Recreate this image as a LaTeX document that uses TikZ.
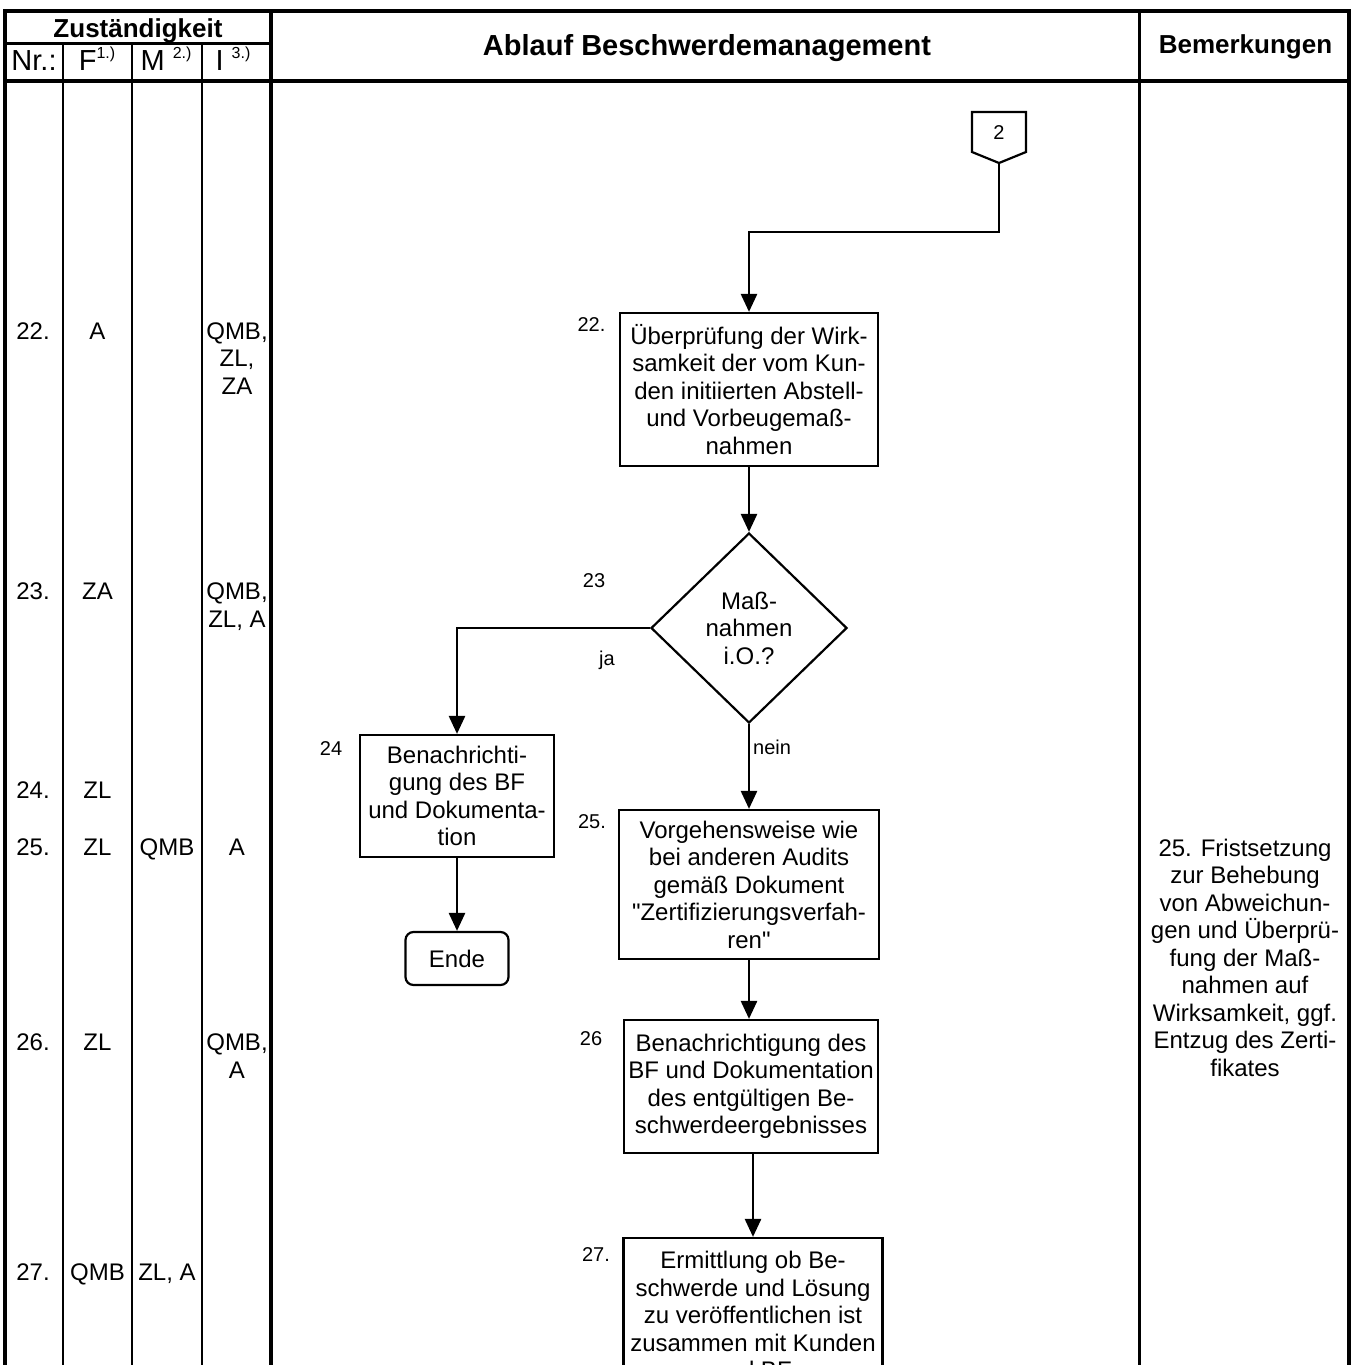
\documentclass[tikz,border=0pt]{standalone}
\usepackage{fontspec}
\setmainfont{Liberation Sans}
\newfontfamily\qfont{Liberation Sans}
\usetikzlibrary{shapes.geometric,arrows.meta}
\newcommand\fbody{\fontsize{24}{27.5}\selectfont}
\newcommand\flabel{\fontsize{20}{24}\selectfont}
\newcommand\fhead{\fontsize{29}{32}\selectfont}
\newcommand\fsup{\fontsize{16}{16}\selectfont}
\newcommand\fbold{\fontsize{26}{30}\selectfont\bfseries}
\newcommand\ftitle{\fontsize{29}{32}\selectfont\bfseries}
\newcommand\supsc[1]{\raisebox{11.5pt}{\fsup #1}}
\newcommand\capstrut{\rule{0pt}{17.2pt}}
\newcommand\sq{{\qfont\char34}}
\begin{document}
\begin{tikzpicture}[x=1pt,y=-1pt,
  tabborder/.style={line width=4pt},
  gridline/.style={line width=2.5pt},
  thickline/.style={line width=3.2pt},
  proc/.style={draw,line width=2.2pt,align=center,font=\fbody,inner sep=0pt},
  dec/.style={draw,diamond,line width=2.2pt,align=center,font=\fbody,inner sep=0pt,minimum width=196pt,minimum height=190pt},
  term/.style={draw,rounded corners=8pt,line width=2.2pt,font=\fbody,inner sep=0pt},
  flow/.style={line width=2.6pt,-{Triangle[width=16pt,length=18pt]}},
  link/.style={line width=2.2pt},
  lab/.style={font=\flabel,inner sep=0pt,anchor=base},
  cell/.style={font=\fbody,inner sep=0pt,anchor=base},
  mcell/.style={font=\fbody,inner sep=0pt,anchor=north,align=center},
]
\useasboundingbox (0,0) rectangle (1356,1365);
\clip (0,0) rectangle (1356,1365);

% ---- table frame
\draw[tabborder,line join=miter] (4.5,1400) -- (4.5,11) -- (1348.5,11) -- (1348.5,1400);
\draw[tabborder] (4.5,81) -- (1348.5,81);
\draw[gridline] (4.5,43.3) -- (271,43.3);
\draw[gridline] (62.8,43.3) -- (62.8,1400);
\draw[gridline] (132.2,43.3) -- (132.2,1400);
\draw[gridline] (202.2,43.3) -- (202.2,1400);
\draw[thickline] (271,11) -- (271,1400);
\draw[thickline] (1139.5,11) -- (1139.5,1400);

% ---- header
\node[font=\fbold,anchor=base,inner sep=0pt] (hz) at (138,37.5) {Zuständigkeit};
\node[font=\fhead,anchor=base,inner sep=0pt] (hnr) at (34,70) {Nr.:};
\node[font=\fhead,anchor=base,inner sep=0pt] (hf) at (97,70) {F\supsc{1.)}};
\node[font=\fhead,anchor=base,inner sep=0pt] (hm) at (166,70) {M \supsc{2.)}};
\node[font=\fhead,anchor=base,inner sep=0pt] (hi) at (233,70) {I \supsc{3.)}};
\node[font=\ftitle,anchor=base,inner sep=0pt] (htitle) at (707,55.5) {Ablauf Beschwerdemanagement};
\node[font=\fbold,anchor=base,inner sep=0pt] (hbem) at (1245.5,53.5) {Bemerkungen};

% ---- responsibility columns
\node[cell] (n22) at (33,339) {22.};
\node[cell] (f22) at (97.5,339) {A};
\node[mcell] (i22) at (237,322) {\capstrut QMB,\\ZL,\\ZA};

\node[cell] (n23) at (33,599.6) {23.};
\node[cell] (f23) at (97.5,599.6) {ZA};
\node[mcell] (i23) at (237,582.4) {\capstrut QMB,\\ZL, A};

\node[cell] (n24) at (33,798.6) {24.};
\node[cell] (f24) at (97.5,798.6) {ZL};

\node[cell] (n25) at (33,855.6) {25.};
\node[cell] (f25) at (97.5,855.6) {ZL};
\node[cell] (m25) at (167,855.6) {QMB};
\node[cell] (i25) at (237,855.6) {A};

\node[cell] (n26) at (33,1050.6) {26.};
\node[cell] (f26) at (97.5,1050.6) {ZL};
\node[mcell] (i26) at (237,1033.4) {\capstrut QMB,\\A};

\node[cell] (n27) at (33,1280.6) {27.};
\node[cell] (f27) at (97.5,1280.6) {QMB};
\node[cell] (m27) at (167,1280.6) {ZL, A};

% ---- remarks
\node[mcell] (rem25) at (1245,838.4) {\capstrut 25. Fristsetzung\\zur Behebung\\von Abweichun-\\gen und Überprü-\\fung der Maß-\\nahmen auf\\Wirksamkeit, ggf.\\Entzug des Zerti-\\fikates};

% ---- connector 2
\node[font=\flabel,inner sep=0pt] (c2) at (999,133) {2};
\draw[link] (972,112) -- (1026,112) -- (1026,152) -- (999,163) -- (972,152) -- cycle;
\coordinate (c2tip) at (999,163);

% ---- flow nodes
\node[proc,minimum width=258pt,minimum height=153pt] (b22) at (749,389.5)
  {Überprüfung der Wirk-\\samkeit der vom Kun-\\den initiierten Abstell-\\und Vorbeugemaß-\\nahmen};
\node[dec] (dia) at (749,628) {Maß-\\nahmen\\i.O.?};
\node[proc,minimum width=194pt,minimum height=122pt] (b24) at (457,796)
  {Benachrichti-\\gung des BF\\und Dokumenta-\\tion};
\node[term,minimum width=103pt,minimum height=53pt] (ende) at (457,958.5) {Ende};
\node[proc,minimum width=260pt,minimum height=149pt] (b25) at (749,884.5)
  {Vorgehensweise wie\\bei anderen Audits\\gemäß Dokument\\\sq Zertifizierungsverfah-\\ren\sq};
\node[proc,minimum width=254pt,minimum height=133pt] (b26) at (751,1086.5)
  {Benachrichtigung des\\BF und Dokumentation\\des entgültigen Be-\\schwerdeergebnisses};
\node[proc,minimum width=259pt,minimum height=154pt] (b27) at (753,1315)
  {Ermittlung ob Be-\\schwerde und Lösung\\zu veröffentlichen ist\\zusammen mit Kunden\\und BF};

% ---- step labels
\node[lab] (l22) at (591.5,331) {22.};
\node[lab] (l23) at (594,587) {23};
\node[lab] (l24) at (331,755) {24};
\node[lab] (l25) at (592,828) {25.};
\node[lab] (l26) at (591,1045) {26};
\node[lab] (l27) at (596,1261) {27.};
\node[lab] (lja) at (607,665) {ja};
\node[lab,anchor=base west] (lnein) at (753,754) {nein};

% ---- connectors
\coordinate (j1) at (749,232);
\draw[flow] (c2tip) |- (j1) -- (b22.north);
\draw[flow] (b22.south) -- (dia.north);
\draw[flow] (dia.west) -| (b24.north);
\draw[flow] (b24.south) -- (ende.north);
\draw[flow] (dia.south) -- (b25.north);
\draw[flow] (b25.south) -- (b25.south |- b26.north);
\draw[flow] (b26.south -| b27.north) -- (b27.north);
\end{tikzpicture}
\end{document}
